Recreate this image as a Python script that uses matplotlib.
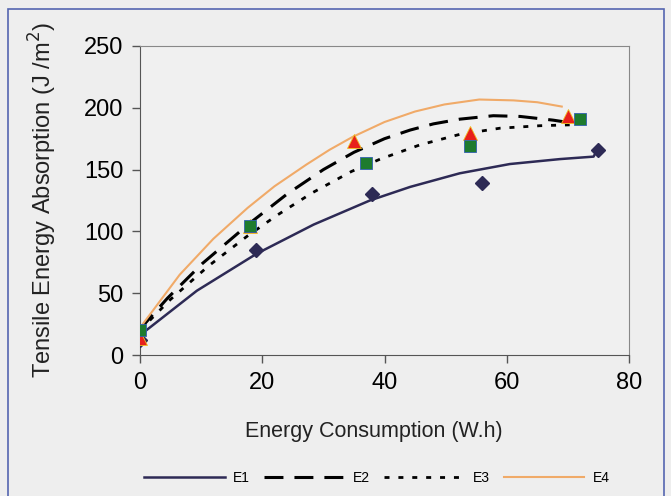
import matplotlib
matplotlib.use("Agg")
import matplotlib.pyplot as plt
from matplotlib.patches import Rectangle

# measured points (markers)
e1_x = [0, 19, 38, 56, 75]
e1_y = [12, 85, 130, 139, 166]
e2_x = [0, 18, 35, 54, 70]
e2_y = [14, 104, 173, 180, 193]
e3_x = [0, 18, 37, 54, 72]
e3_y = [20, 104, 155, 169, 191]

# trend lines
e1_line_x = [0, 9.3, 19.1, 28.4, 37.6, 44.2, 52.3, 60.5, 68.7, 74.2, 74.8]
e1_line_y = [16, 52, 82, 105.5, 125, 136, 147, 154.5, 158.5, 160.5, 165.8]
e2_line_x = [0, 4.5, 10.2, 17.8, 24, 30, 35, 40, 44.2, 48, 52.3, 57.8, 62.2, 67.6, 69.6]
e2_line_y = [21, 46, 74, 106, 130, 150, 164, 175, 182, 187, 190.8, 193.6, 193, 190, 188.5]
e3_line_x = [0, 5, 11.2, 17.5, 22.4, 28.1, 34.6, 39.3, 45.8, 52.3, 58.9, 65.4, 70.3]
e3_line_y = [20, 45, 72, 96, 113, 131, 148.5, 158.5, 170, 178.5, 183.5, 185.5, 186.2]
e4_line_x = [0, 6.5, 12, 17.6, 22, 27.2, 31, 34.8, 40, 45, 49.8, 55.5, 61.1, 65, 69]
e4_line_y = [22, 65, 94, 119, 136.5, 154, 166, 176.5, 188.5, 197, 202.7, 206.7, 206, 204.5, 201]

labels = ["E1", "E2", "E3", "E4"]

plt.rcParams['font.family'] = ['Liberation Sans', 'DejaVu Sans']

fig = plt.figure(figsize=(6.71, 4.96), dpi=100, facecolor='#eeeeee')
ax = fig.add_axes([140/671, 1 - 355/496, 489/671, 309/496])
ax.set_facecolor('#f0f0f0')

navy = '#2d2a55'
ax.plot(e1_line_x, e1_line_y, color=navy, lw=1.8, label=labels[0], zorder=2)
ax.plot(e2_line_x, e2_line_y, color='black', lw=2.2, dashes=(6.2, 3.6), label=labels[1], zorder=2)
ax.plot(e3_line_x, e3_line_y, color='black', lw=2.0, dashes=(1.8, 3.2), label=labels[2], zorder=2)
ax.plot(e4_line_x, e4_line_y, color='#f0aa68', lw=1.5, label=labels[3], zorder=2)

ax.plot(e1_x, e1_y, 'D', color=navy, ms=7.5, zorder=3)
ax.plot(e2_x, e2_y, '^', color='#e8201c', mec='#f0c020', mew=0.6, ms=10.5, zorder=4)
ax.plot(e3_x, e3_y, 's', color='#1e7b2e', mec='#3060b0', mew=0.6, ms=9, zorder=5)

ax.set_xlim(0, 80)
ax.set_ylim(0, 250)
ax.set_xticks([0, 20, 40, 60, 80])
ax.set_yticks([0, 50, 100, 150, 200, 250])
ax.tick_params(direction='out', length=6, width=1, color='#555555', labelsize=17, pad=6)
for side in ['left', 'bottom']:
    ax.spines[side].set_color('#555555')
for side in ['top', 'right']:
    ax.spines[side].set_color('#888888')
    ax.spines[side].set_linewidth(0.8)

fig.text(43/671, 1 - 200/496, 'Tensile Energy Absorption (J /m$^2$)',
         rotation=90, ha='center', va='center', fontsize=17, color='#222222')
fig.text(374/671, 1 - 432/496, 'Energy Consumption (W.h)',
         ha='center', va='center', fontsize=15.5, color='#222222')

fig.legend(loc='center', bbox_to_anchor=(377/671, 1 - 478/496), ncol=4, frameon=False,
           fontsize=10, handlelength=5.8, handletextpad=0.6, columnspacing=1.0)

fig.patches.append(Rectangle((8/671, -0.02), 656/671, 1 - 9/496 + 0.02,
                             transform=fig.transFigure, fill=False,
                             edgecolor='#5566b0', lw=1.2))

fig.savefig('out.png', dpi=100, facecolor=fig.get_facecolor())
